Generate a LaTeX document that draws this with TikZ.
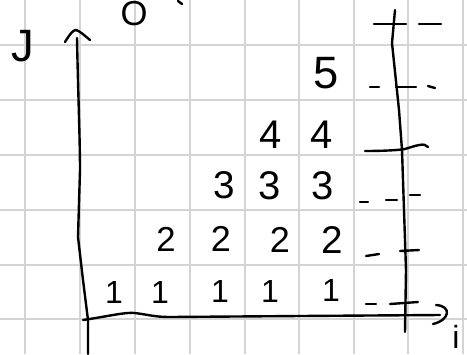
\documentclass[tikz,border=0pt]{standalone}
\usepackage{fontspec}
\setmainfont{Liberation Sans}
\begin{document}
\begin{tikzpicture}[x=0.75pt,y=-0.75pt,
  gridline/.style={draw=gridgray,line width=1.5pt},
  ink/.style={draw=black,line width=1.8pt,line cap=round,line join=round},
  digit/.style={inner sep=0pt,outer sep=0pt,anchor=center,text=black},
  dsize/.style={font=\fontsize{#1}{#1}\selectfont}]
\definecolor{gridgray}{RGB}{212,212,212}
\useasboundingbox (0,0) rectangle (467,354);
\fill[white] (0,0) rectangle (467,354);
\clip (0,0) rectangle (467,354);
% grid
\foreach \gx in {25,80,135,190,245,299,354,408,463}
  \draw[gridline] (\gx,0) -- (\gx,354);
\foreach \gy in {45,100,155,210,265,319}
  \draw[gridline] (0,\gy) -- (467,\gy);
% partial top letter
\node[digit,dsize=26] (topO) at (134,14) {O};
\draw[ink] (178,1) -- (182,4);
% axis label J
\node[digit,dsize=34] (lblJ) at (23,46) {J};
% y axis with hand arrow
\coordinate (ytop) at (77,38);
\coordinate (ybot) at (88,354);
\draw[ink] (ytop) .. controls (78,90) and (80,140) .. (80,170) -- (78,237) -- (83,280) -- (88,320) -- (ybot);
\draw[ink] (65,42) .. controls (70,34) and (73,30) .. (76,30) .. controls (80,31) and (85,36) .. (90,40);
% x axis
\coordinate (xleft) at (83,320);
\coordinate (xright) at (440,315);
\draw[ink] (xleft) .. controls (110,316) and (125,312) .. (135,313) .. controls (150,315) and (155,317) .. (170,317) -- (300,316) -- (xright);
\draw[ink] (436,305) .. controls (452,306) and (450,320) .. (433,324);
\node[digit,dsize=24] (lbli) at (456,337) {i};
% right vertical line
\draw[ink] (395,10) -- (392,43) -- (399,110) -- (402,150) -- (406,270) -- (405,332);
% ticks and dashes
\draw[ink] (374,24) -- (406,24);
\draw[ink] (419,24) -- (441,24);
\draw[ink] (370,87) -- (379,87);
\draw[ink] (396,87) -- (416,87);
\draw[ink] (428,86) -- (435,88);
\draw[ink] (365,151) .. controls (385,151) and (400,150) .. (405,149) .. controls (415,146) and (425,142) .. (428,147);
\draw[ink] (360,202) -- (368,202);
\draw[ink] (386,200) -- (397,200);
\draw[ink] (410,195) -- (420,195);
\draw[ink] (366,256) -- (379,254);
\draw[ink] (400,251) -- (419,250);
\draw[ink] (366,304) -- (376,304);
\draw[ink] (390,304) -- (418,302);
% numbers
\node[digit,dsize=34] (n5) at (326,73) {5};
\node[digit,dsize=30] (n4a) at (271,135) {4};
\node[digit,dsize=30] (n4b) at (322,135) {4};
\node[digit,dsize=29] (n3a) at (224,185) {3};
\node[digit,dsize=30] (n3b) at (270,186) {3};
\node[digit,dsize=30] (n3c) at (323,186) {3};
\node[digit,dsize=26] (n2a) at (166,239) {2};
\node[digit,dsize=27] (n2b) at (221,239) {2};
\node[digit,dsize=27] (n2c) at (280,240) {2};
\node[digit,dsize=29] (n2d) at (332,240) {2};
\node[digit,dsize=24] (n1a) at (114,292) {1};
\node[digit,dsize=24] (n1b) at (160,292) {1};
\node[digit,dsize=24] (n1c) at (220,291) {1};
\node[digit,dsize=24] (n1d) at (270,291) {1};
\node[digit,dsize=24] (n1e) at (331,290) {1};
\end{tikzpicture}
\end{document}
